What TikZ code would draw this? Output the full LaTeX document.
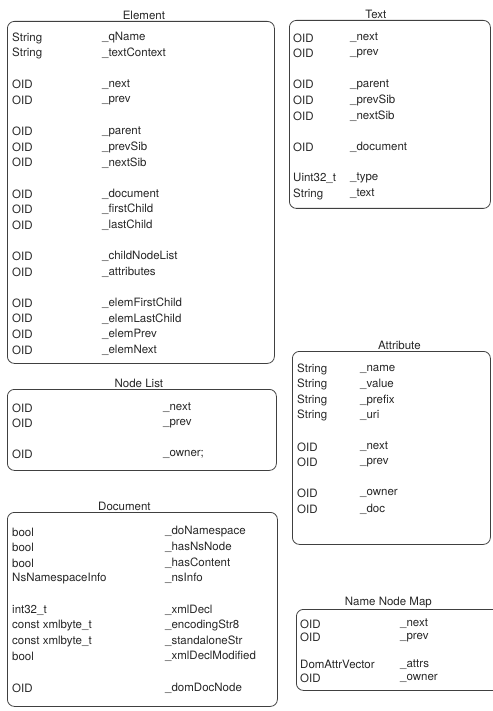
\documentclass[tikz,border=0pt]{standalone}
\usepackage{fontspec}
\setmainfont{TeX Gyre Heros}
\usetikzlibrary{positioning}

\tikzset{
  classbox/.style={draw=black!75, line width=0.8pt, rounded corners=7pt,
                   inner sep=0pt, anchor=north west},
  classname/.style={font=\fontsize{11.5}{13}\selectfont, text=black!85,
                    inner sep=1pt},
  field/.style={font=\fontsize{11.5}{13}\selectfont, text=black!85,
                anchor=west, inner sep=0pt},
}

\def\rowp{15.6}
\def\maprowp{13.5}

\begin{document}
\begin{tikzpicture}[x=1pt, y=1pt]
\useasboundingbox (0,0) rectangle (492,-711);

%---------------------------------------
% Left column
%---------------------------------------
% Element
\node[classbox, minimum width=267pt, minimum height=342pt] (elem) at (7,-21) {};
\node[classname, above=0pt of elem.north, xshift=3pt] (elemT) {Element};
\foreach \r/\t/\n in {0/String/\_qName, 1/String/\_textContext,
    3/OID/\_next, 4/OID/\_prev,
    6/OID/\_parent, 7/OID/\_prevSib, 8/OID/\_nextSib,
    10/OID/\_document, 11/OID/\_firstChild, 12/OID/\_lastChild,
    14/OID/\_childNodeList, 15/OID/\_attributes,
    17/OID/\_elemFirstChild, 18/OID/\_elemLastChild, 19/OID/\_elemPrev, 20/OID/\_elemNext}
{
  \node[field] (elemt\r) at (12,{-(38+\r*\rowp)}) {\t};
  \node[field] (elemn\r) at (102,{-(38+\r*\rowp)}) {\n};
}

% Node List
\node[classbox, minimum width=269pt, minimum height=81pt] (nlist) at (7,-389) {};
\node[classname, above=0pt of nlist.north, xshift=-3pt] (nlistT) {Node List};
\foreach \r/\t/\n in {0/OID/\_next, 1/OID/\_prev, 3/OID/\_owner;}
{
  \node[field] (nlistt\r) at (12,{-(408+\r*\rowp)}) {\t};
  \node[field] (nlistn\r) at (163,{-(408+\r*\rowp)}) {\n};
}

% Document
\node[classbox, minimum width=270pt, minimum height=194pt] (doc) at (7,-512) {};
\node[classname, above=0pt of doc.north, xshift=-18pt] (docT) {Document};
\foreach \r/\t/\n in {0/bool/\_doNamespace, 1/bool/\_hasNsNode, 2/bool/\_hasContent,
    3/NsNamespaceInfo/\_nsInfo,
    5/int32\_t/\_xmlDecl, 6/const xmlbyte\_t/\_encodingStr8,
    7/const xmlbyte\_t/\_standaloneStr, 8/bool/\_xmlDeclModified,
    10/OID/\_domDocNode}
{
  \node[field] (doct\r) at (12,{-(532+\r*\rowp)}) {\t};
  \node[field] (docn\r) at (165,{-(532+\r*\rowp)}) {\n};
}

%---------------------------------------
% Right column
%---------------------------------------
% Text
\node[classbox, minimum width=201pt, minimum height=188pt] (text) at (289,-20) {};
\node[classname, above=0pt of text.north, xshift=-14pt] (textT) {Text};
\foreach \r/\t/\n in {0/OID/\_next, 1/OID/\_prev,
    3/OID/\_parent, 4/OID/\_prevSib, 5/OID/\_nextSib,
    7/OID/\_document, 9/Uint32\_t/\_type, 10/String/\_text}
{
  \node[field] (textt\r) at (293,{-(38+\r*\rowp)}) {\t};
  \node[field] (textn\r) at (350,{-(38+\r*\rowp)}) {\n};
}

% Attribute
\node[classbox, minimum width=198pt, minimum height=193pt] (attr) at (292,-351) {};
\node[classname, above=0pt of attr.north, xshift=8pt] (attrT) {Attribute};
\foreach \r/\t/\n in {0/String/\_name, 1/String/\_value, 2/String/\_prefix, 3/String/\_uri,
    5/OID/\_next, 6/OID/\_prev, 8/OID/\_owner, 9/OID/\_doc}
{
  \node[field] (attrt\r) at (297,{-(369+\r*\rowp)}) {\t};
  \node[field] (attrn\r) at (360,{-(369+\r*\rowp)}) {\n};
}

% Name Node Map
\node[classbox, minimum width=204pt, minimum height=81pt] (nmap) at (296,-609) {};
\node[classname, above=0pt of nmap.north, xshift=-10pt] (nmapT) {Name Node Map};
\foreach \r/\t/\n in {0/OID/\_next, 1/OID/\_prev, 3/DomAttrVector/\_attrs, 4/OID/\_owner}
{
  \node[field] (nmapt\r) at (300,{-(624+\r*\maprowp)}) {\t};
  \node[field] (nmapn\r) at (400,{-(624+\r*\maprowp)}) {\n};
}

\end{tikzpicture}
\end{document}
